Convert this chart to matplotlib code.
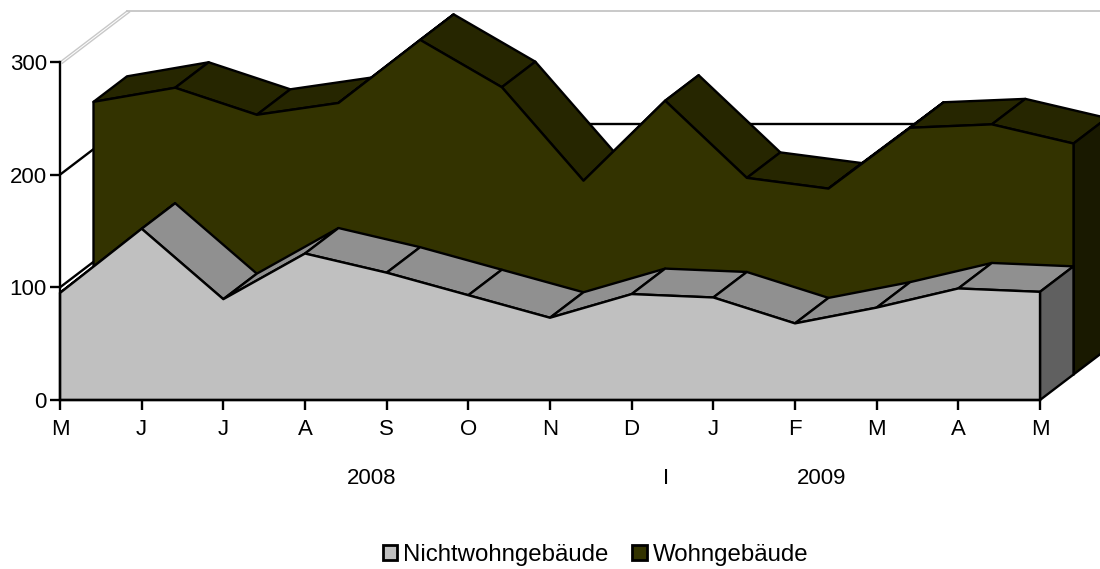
import matplotlib

matplotlib.use("Agg")
import matplotlib.pyplot as plt
from matplotlib.patches import Patch, Polygon

plt.rcParams["font.family"] = ["Liberation Sans", "DejaVu Sans"]

months = ["M", "J", "J", "A", "S", "O", "N", "D", "J", "F", "M", "A", "M"]
nichtwohn = [95, 152, 89.5, 130, 113, 93, 73, 94, 91, 68, 82, 99, 96]
wohn = [242, 254.5, 230.5, 241, 297, 255, 172, 243, 174.5, 165, 219, 222, 205]
year_labels = ["2008", "I", "2009"]
year_pos = [3.82, 7.42, 9.33]
y_ticks = [0, 100, 200, 300]

# depth of one layer in data units (33 px right, 25.5 px up)
DX = 33.5 / (980 / 12)
DY = 25.5 / (338 / 300)
EDGE = 1.7


def draw_layer(ax, values, layer, front, top, side, zorder):
    # layer is the number of depth steps from the front plane
    n = len(values)
    x0 = [i + layer * DX for i in range(n)]
    base = layer * DY
    y0 = [v + base for v in values]
    x1 = [x + DX for x in x0]
    y1 = [y + DY for y in y0]

    def add(points, color, z):
        ax.add_patch(Polygon(points, closed=True, facecolor=color, edgecolor="black",
                             linewidth=EDGE, joinstyle="round", clip_on=False, zorder=z))

    for i in range(n - 1):
        add([(x0[i], y0[i]), (x0[i + 1], y0[i + 1]), (x1[i + 1], y1[i + 1]), (x1[i], y1[i])], top, zorder)
    add([(x0[-1], base), (x1[-1], base + DY), (x1[-1], y1[-1]), (x0[-1], y0[-1])], side, zorder + 0.1)
    add([(x0[0], base)] + list(zip(x0, y0)) + [(x0[-1], base)], front, zorder + 0.2)


fig = plt.figure(figsize=(11, 5.69), dpi=100)
ax = fig.add_axes([60 / 1100, 169 / 569, 980 / 1100, 338 / 569])
ax.set_xlim(0, 12)
ax.set_ylim(0, 300)

# back wall grid
back_dx, back_dy = 2 * DX, 2 * DY
for val in y_ticks[1:3]:
    ax.plot([0, back_dx], [val, val + back_dy], color="black", lw=EDGE, clip_on=False, zorder=1)
    ax.plot([back_dx, 12 + back_dx], [val + back_dy, val + back_dy], color="black", lw=EDGE, clip_on=False, zorder=1)
ax.plot([0, back_dx], [300, 300 + back_dy], color="#c8c8c8", lw=1, clip_on=False, zorder=1)
ax.plot([0.03, back_dx + 0.03], [299, 299 + back_dy], color="#c8c8c8", lw=1, clip_on=False, zorder=1)
ax.plot([back_dx, 12 + back_dx], [300 + back_dy, 300 + back_dy], color="#c0c0c0", lw=1.2, clip_on=False, zorder=1)

draw_layer(ax, wohn, 1, "#333300", "#262600", "#191900", 2)
draw_layer(ax, nichtwohn, 0, "#c0c0c0", "#909090", "#606060", 3)

for name in ["top", "right"]:
    ax.spines[name].set_visible(False)
for name in ["left", "bottom"]:
    ax.spines[name].set_linewidth(EDGE)
    ax.spines[name].set_zorder(5)
ax.set_xticks(range(len(months)), months)
ax.set_yticks(y_ticks)
ax.tick_params(axis="both", length=7.5, width=EDGE, labelsize=16)
ax.tick_params(axis="x", pad=6)
ax.tick_params(axis="y", pad=2)

for pos, label in zip(year_pos, year_labels):
    ax.text(pos, -0.231, label, transform=ax.get_xaxis_transform(), ha="center", va="center", fontsize=16)

handles = [
    Patch(facecolor="#c0c0c0", edgecolor="black", linewidth=2, label="Nichtwohngebäude"),
    Patch(facecolor="#333300", edgecolor="black", linewidth=2, label="Wohngebäude"),
]
fig.legend(handles=handles, ncol=2, loc="center", bbox_to_anchor=(595.5 / 1100, 1 - 555 / 569), frameon=False,
           fontsize=17.3, handlelength=0.6, handleheight=0.6, handletextpad=0.25, columnspacing=1.0,
           borderpad=0)

fig.savefig("out.png", dpi=100)
plt.close(fig)
